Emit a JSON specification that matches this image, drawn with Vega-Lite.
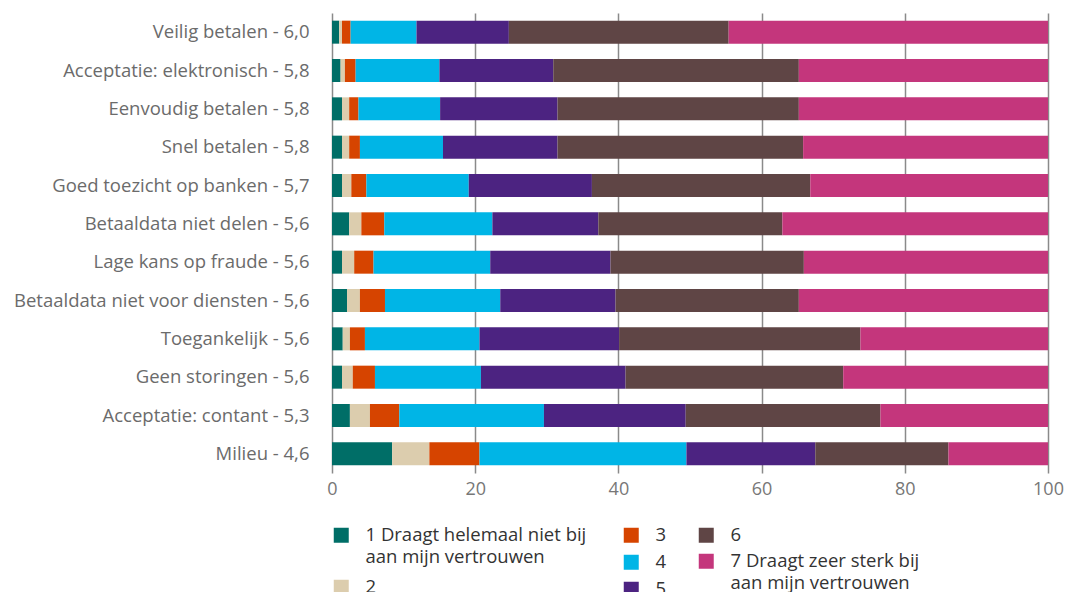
{
  "$schema": "https://vega.github.io/schema/vega-lite/v6.json",
  "width": 716,
  "height": 460,
  "autosize": {"type": "none"},
  "padding": {"left": 332, "top": 13, "right": 17, "bottom": 119},
  "background": "white",
  "config": {
    "font": "Open Sans",
    "view": {"stroke": null},
    "axis": {"labelFont": "Open Sans", "titleFont": "Open Sans"},
    "legend": {"labelFont": "Open Sans"},
    "style": {"guide-label": {"lineHeight": 22}}
  },
  "data": {
    "values": [
      {"item": "Veilig betalen - 6,0", "categorie": "1 Draagt helemaal niet bij aan mijn vertrouwen", "waarde": 1.0},
      {"item": "Veilig betalen - 6,0", "categorie": "2", "waarde": 0.4},
      {"item": "Veilig betalen - 6,0", "categorie": "3", "waarde": 1.2},
      {"item": "Veilig betalen - 6,0", "categorie": "4", "waarde": 9.2},
      {"item": "Veilig betalen - 6,0", "categorie": "5", "waarde": 12.9},
      {"item": "Veilig betalen - 6,0", "categorie": "6", "waarde": 30.7},
      {"item": "Veilig betalen - 6,0", "categorie": "7 Draagt zeer sterk bij aan mijn vertrouwen", "waarde": 44.6},

      {"item": "Acceptatie: elektronisch - 5,8", "categorie": "1 Draagt helemaal niet bij aan mijn vertrouwen", "waarde": 1.2},
      {"item": "Acceptatie: elektronisch - 5,8", "categorie": "2", "waarde": 0.6},
      {"item": "Acceptatie: elektronisch - 5,8", "categorie": "3", "waarde": 1.5},
      {"item": "Acceptatie: elektronisch - 5,8", "categorie": "4", "waarde": 11.7},
      {"item": "Acceptatie: elektronisch - 5,8", "categorie": "5", "waarde": 15.9},
      {"item": "Acceptatie: elektronisch - 5,8", "categorie": "6", "waarde": 34.3},
      {"item": "Acceptatie: elektronisch - 5,8", "categorie": "7 Draagt zeer sterk bij aan mijn vertrouwen", "waarde": 34.8},

      {"item": "Eenvoudig betalen - 5,8", "categorie": "1 Draagt helemaal niet bij aan mijn vertrouwen", "waarde": 1.4},
      {"item": "Eenvoudig betalen - 5,8", "categorie": "2", "waarde": 1.0},
      {"item": "Eenvoudig betalen - 5,8", "categorie": "3", "waarde": 1.3},
      {"item": "Eenvoudig betalen - 5,8", "categorie": "4", "waarde": 11.4},
      {"item": "Eenvoudig betalen - 5,8", "categorie": "5", "waarde": 16.4},
      {"item": "Eenvoudig betalen - 5,8", "categorie": "6", "waarde": 33.7},
      {"item": "Eenvoudig betalen - 5,8", "categorie": "7 Draagt zeer sterk bij aan mijn vertrouwen", "waarde": 34.8},

      {"item": "Snel betalen - 5,8", "categorie": "1 Draagt helemaal niet bij aan mijn vertrouwen", "waarde": 1.4},
      {"item": "Snel betalen - 5,8", "categorie": "2", "waarde": 1.0},
      {"item": "Snel betalen - 5,8", "categorie": "3", "waarde": 1.5},
      {"item": "Snel betalen - 5,8", "categorie": "4", "waarde": 11.6},
      {"item": "Snel betalen - 5,8", "categorie": "5", "waarde": 16.0},
      {"item": "Snel betalen - 5,8", "categorie": "6", "waarde": 34.3},
      {"item": "Snel betalen - 5,8", "categorie": "7 Draagt zeer sterk bij aan mijn vertrouwen", "waarde": 34.2},

      {"item": "Goed toezicht op banken - 5,7", "categorie": "1 Draagt helemaal niet bij aan mijn vertrouwen", "waarde": 1.4},
      {"item": "Goed toezicht op banken - 5,7", "categorie": "2", "waarde": 1.3},
      {"item": "Goed toezicht op banken - 5,7", "categorie": "3", "waarde": 2.1},
      {"item": "Goed toezicht op banken - 5,7", "categorie": "4", "waarde": 14.3},
      {"item": "Goed toezicht op banken - 5,7", "categorie": "5", "waarde": 17.2},
      {"item": "Goed toezicht op banken - 5,7", "categorie": "6", "waarde": 30.5},
      {"item": "Goed toezicht op banken - 5,7", "categorie": "7 Draagt zeer sterk bij aan mijn vertrouwen", "waarde": 33.2},

      {"item": "Betaaldata niet delen - 5,6", "categorie": "1 Draagt helemaal niet bij aan mijn vertrouwen", "waarde": 2.4},
      {"item": "Betaaldata niet delen - 5,6", "categorie": "2", "waarde": 1.7},
      {"item": "Betaaldata niet delen - 5,6", "categorie": "3", "waarde": 3.2},
      {"item": "Betaaldata niet delen - 5,6", "categorie": "4", "waarde": 15.1},
      {"item": "Betaaldata niet delen - 5,6", "categorie": "5", "waarde": 14.8},
      {"item": "Betaaldata niet delen - 5,6", "categorie": "6", "waarde": 25.7},
      {"item": "Betaaldata niet delen - 5,6", "categorie": "7 Draagt zeer sterk bij aan mijn vertrouwen", "waarde": 37.1},

      {"item": "Lage kans op fraude - 5,6", "categorie": "1 Draagt helemaal niet bij aan mijn vertrouwen", "waarde": 1.4},
      {"item": "Lage kans op fraude - 5,6", "categorie": "2", "waarde": 1.7},
      {"item": "Lage kans op fraude - 5,6", "categorie": "3", "waarde": 2.7},
      {"item": "Lage kans op fraude - 5,6", "categorie": "4", "waarde": 16.3},
      {"item": "Lage kans op fraude - 5,6", "categorie": "5", "waarde": 16.8},
      {"item": "Lage kans op fraude - 5,6", "categorie": "6", "waarde": 27.0},
      {"item": "Lage kans op fraude - 5,6", "categorie": "7 Draagt zeer sterk bij aan mijn vertrouwen", "waarde": 34.1},

      {"item": "Betaaldata niet voor diensten - 5,6", "categorie": "1 Draagt helemaal niet bij aan mijn vertrouwen", "waarde": 2.1},
      {"item": "Betaaldata niet voor diensten - 5,6", "categorie": "2", "waarde": 1.8},
      {"item": "Betaaldata niet voor diensten - 5,6", "categorie": "3", "waarde": 3.5},
      {"item": "Betaaldata niet voor diensten - 5,6", "categorie": "4", "waarde": 16.1},
      {"item": "Betaaldata niet voor diensten - 5,6", "categorie": "5", "waarde": 16.1},
      {"item": "Betaaldata niet voor diensten - 5,6", "categorie": "6", "waarde": 25.6},
      {"item": "Betaaldata niet voor diensten - 5,6", "categorie": "7 Draagt zeer sterk bij aan mijn vertrouwen", "waarde": 34.8},

      {"item": "Toegankelijk - 5,6", "categorie": "1 Draagt helemaal niet bij aan mijn vertrouwen", "waarde": 1.5},
      {"item": "Toegankelijk - 5,6", "categorie": "2", "waarde": 1.0},
      {"item": "Toegankelijk - 5,6", "categorie": "3", "waarde": 2.1},
      {"item": "Toegankelijk - 5,6", "categorie": "4", "waarde": 16.0},
      {"item": "Toegankelijk - 5,6", "categorie": "5", "waarde": 19.5},
      {"item": "Toegankelijk - 5,6", "categorie": "6", "waarde": 33.7},
      {"item": "Toegankelijk - 5,6", "categorie": "7 Draagt zeer sterk bij aan mijn vertrouwen", "waarde": 26.2},

      {"item": "Geen storingen - 5,6", "categorie": "1 Draagt helemaal niet bij aan mijn vertrouwen", "waarde": 1.4},
      {"item": "Geen storingen - 5,6", "categorie": "2", "waarde": 1.5},
      {"item": "Geen storingen - 5,6", "categorie": "3", "waarde": 3.1},
      {"item": "Geen storingen - 5,6", "categorie": "4", "waarde": 14.8},
      {"item": "Geen storingen - 5,6", "categorie": "5", "waarde": 20.2},
      {"item": "Geen storingen - 5,6", "categorie": "6", "waarde": 30.4},
      {"item": "Geen storingen - 5,6", "categorie": "7 Draagt zeer sterk bij aan mijn vertrouwen", "waarde": 28.6},

      {"item": "Acceptatie: contant - 5,3", "categorie": "1 Draagt helemaal niet bij aan mijn vertrouwen", "waarde": 2.5},
      {"item": "Acceptatie: contant - 5,3", "categorie": "2", "waarde": 2.8},
      {"item": "Acceptatie: contant - 5,3", "categorie": "3", "waarde": 4.1},
      {"item": "Acceptatie: contant - 5,3", "categorie": "4", "waarde": 20.2},
      {"item": "Acceptatie: contant - 5,3", "categorie": "5", "waarde": 19.8},
      {"item": "Acceptatie: contant - 5,3", "categorie": "6", "waarde": 27.2},
      {"item": "Acceptatie: contant - 5,3", "categorie": "7 Draagt zeer sterk bij aan mijn vertrouwen", "waarde": 23.4},

      {"item": "Milieu - 4,6", "categorie": "1 Draagt helemaal niet bij aan mijn vertrouwen", "waarde": 8.4},
      {"item": "Milieu - 4,6", "categorie": "2", "waarde": 5.2},
      {"item": "Milieu - 4,6", "categorie": "3", "waarde": 7.0},
      {"item": "Milieu - 4,6", "categorie": "4", "waarde": 28.9},
      {"item": "Milieu - 4,6", "categorie": "5", "waarde": 18.0},
      {"item": "Milieu - 4,6", "categorie": "6", "waarde": 18.6},
      {"item": "Milieu - 4,6", "categorie": "7 Draagt zeer sterk bij aan mijn vertrouwen", "waarde": 13.9}
    ]
  },
  "transform": [
    {"stack": "waarde", "groupby": ["item"], "sort": [{"field": "categorie", "order": "ascending"}], "as": ["start", "end"]}
  ],
  "encoding": {
    "y": {
      "field": "item",
      "type": "nominal",
      "sort": null,
      "scale": {"paddingInner": 0.4, "paddingOuter": 0.2},
      "axis": {
        "title": null,
        "domain": false,
        "ticks": false,
        "grid": false,
        "labelPadding": 23,
        "labelFontSize": 18.5,
        "labelColor": "#6b6b6b",
        "labelLimit": 400
      }
    },
    "x": {
      "field": "start",
      "type": "quantitative",
      "scale": {"domain": [0, 100], "nice": false},
      "axis": {
        "title": null,
        "values": [0, 20, 40, 60, 80, 100],
        "domain": false,
        "ticks": false,
        "grid": true,
        "gridColor": "#8a8a8a",
        "gridWidth": 1.5,
        "labelPadding": 7,
        "labelFontSize": 18,
        "labelColor": "#777777",
        "labelFlush": false
      }
    },
    "x2": {"field": "end"}
  },
  "layer": [
    {
      "transform": [{"filter": {"field": "categorie", "oneOf": ["1 Draagt helemaal niet bij aan mijn vertrouwen", "2"]}}],
      "mark": {"type": "bar"},
      "encoding": {
        "color": {
          "field": "categorie",
          "type": "nominal",
          "scale": {"domain": ["1 Draagt helemaal niet bij aan mijn vertrouwen", "2"], "range": ["#006e67", "#dccdae"]},
          "legend": {
            "title": null,
            "orient": "none",
            "legendX": 0,
            "legendY": 513,
            "symbolType": "square",
            "symbolSize": 225,
            "symbolStrokeWidth": 0,
            "labelFontSize": 18.5,
            "labelColor": "#333333",
            "labelOffset": 15,
            "rowPadding": 11,
            "labelLimit": 400,
            "labelExpr": "indexof(datum.label, ' aan ') > 0 ? [slice(datum.label, 0, indexof(datum.label, ' aan ')), slice(datum.label, indexof(datum.label, ' aan ') + 1)] : datum.label"
          }
        }
      }
    },
    {
      "transform": [{"filter": {"field": "categorie", "oneOf": ["3", "4", "5"]}}],
      "mark": {"type": "bar"},
      "encoding": {
        "color": {
          "field": "categorie",
          "type": "nominal",
          "scale": {"domain": ["3", "4", "5"], "range": ["#d64400", "#00b5e6", "#4c2381"]},
          "legend": {
            "title": null,
            "orient": "none",
            "legendX": 290,
            "legendY": 513,
            "symbolType": "square",
            "symbolSize": 225,
            "symbolStrokeWidth": 0,
            "labelFontSize": 18.5,
            "labelColor": "#333333",
            "labelOffset": 15,
            "rowPadding": 8
          }
        }
      }
    },
    {
      "transform": [{"filter": {"field": "categorie", "oneOf": ["6", "7 Draagt zeer sterk bij aan mijn vertrouwen"]}}],
      "mark": {"type": "bar"},
      "encoding": {
        "color": {
          "field": "categorie",
          "type": "nominal",
          "scale": {"domain": ["6", "7 Draagt zeer sterk bij aan mijn vertrouwen"], "range": ["#5f4545", "#c4367c"]},
          "legend": {
            "title": null,
            "orient": "none",
            "legendX": 365,
            "legendY": 513,
            "symbolType": "square",
            "symbolSize": 225,
            "symbolStrokeWidth": 0,
            "labelFontSize": 18.5,
            "labelColor": "#333333",
            "labelOffset": 15,
            "rowPadding": 7,
            "labelLimit": 400,
            "labelExpr": "indexof(datum.label, ' aan ') > 0 ? [slice(datum.label, 0, indexof(datum.label, ' aan ')), slice(datum.label, indexof(datum.label, ' aan ') + 1)] : datum.label"
          }
        }
      }
    }
  ],
  "resolve": {"scale": {"color": "independent"}, "legend": {"color": "independent"}}
}
